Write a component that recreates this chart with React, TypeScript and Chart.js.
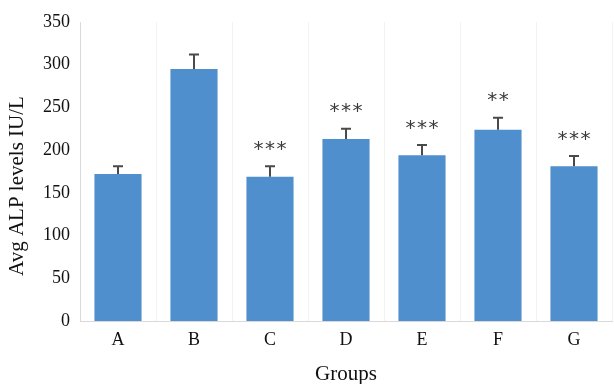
import React, { useEffect, useRef } from "react";
import { Chart, registerables } from "chart.js";

Chart.register(...registerables);

const categories = ["A", "B", "C", "D", "E", "F", "G"];
const avgALP = [172, 295, 169, 213, 194, 224, 181];
const errors = [9, 17, 12, 12, 12, 14, 12];
const significance = ["", "", "***", "***", "***", "**", "***"];
const yTicks = [0, 50, 100, 150, 200, 250, 300, 350];
const yTitle = "Avg ALP levels IU/L";
const xTitle = "Groups";

const serif = "'Liberation Serif', 'Times New Roman', serif";

const errorBarPlugin = {
  id: "errorBars",
  afterDatasetsDraw(chart: any) {
    const { ctx, scales } = chart;
    const meta = chart.getDatasetMeta(0);
    const y = scales.y;
    ctx.save();
    meta.data.forEach((bar: any, i: number) => {
      const x = bar.x;
      const top = y.getPixelForValue(avgALP[i] + errors[i]);
      const base = y.getPixelForValue(avgALP[i]);
      ctx.strokeStyle = "#4a4a4a";
      ctx.lineWidth = 2;
      ctx.beginPath();
      ctx.moveTo(x, base);
      ctx.lineTo(x, top);
      ctx.moveTo(x - 5, top);
      ctx.lineTo(x + 5, top);
      ctx.stroke();
      const s = significance[i];
      if (s) {
        ctx.fillStyle = "#3a3a3a";
        ctx.font = "20px 'DejaVu Sans', sans-serif";
        ctx.textAlign = "center";
        ctx.textBaseline = "alphabetic";
        const m = ctx.measureText("*");
        const centerY = top - 21;
        const baseY = centerY + (m.actualBoundingBoxAscent - m.actualBoundingBoxDescent) / 2;
        const gap = 11.5;
        const n = s.length;
        for (let k = 0; k < n; k++) {
          const cx = x + (k - (n - 1) / 2) * gap;
          ctx.fillText("*", cx, baseY);
        }
      }
    });
    // y-axis title, placed slightly below the axis centre as in the reference
    ctx.save();
    ctx.translate(17, 186);
    ctx.rotate(-Math.PI / 2);
    ctx.fillStyle = "#111";
    ctx.font = `21px ${serif}`;
    ctx.textAlign = "center";
    ctx.textBaseline = "middle";
    ctx.fillText(yTitle, 0, 0);
    ctx.restore();
    ctx.restore();
  },
};

export default function App() {
  const ref = useRef<HTMLCanvasElement | null>(null);
  useEffect(() => {
    if (!ref.current) return;
    const chart = new Chart(ref.current, {
      type: "bar",
      data: {
        labels: categories,
        datasets: [
          {
            data: avgALP,
            backgroundColor: "#4f8fcd",
            borderWidth: 0,
            categoryPercentage: 1,
            barPercentage: 0.62,
          },
        ],
      },
      options: {
        animation: false,
        responsive: false,
        maintainAspectRatio: false,
        layout: { padding: { top: 22, right: 2, left: 0, bottom: 0 } },
        plugins: { legend: { display: false }, tooltip: { enabled: false } },
        scales: {
          x: {
            grid: { display: true, color: "#f2f2f2", drawTicks: false, offset: true },
            border: { display: true, color: "#d9d9d9", width: 1 },
            ticks: { color: "#111", font: { family: serif, size: 18 }, padding: 8 },
            title: {
              display: true,
              text: xTitle,
              color: "#111",
              font: { family: serif, size: 21, lineHeight: 0.9 },
              padding: { top: 0, bottom: 0 },
            },
            afterFit(scale: any) {
              scale.height = 63;
            },
          },
          y: {
            min: 0,
            max: 350,
            afterBuildTicks(scale: any) {
              scale.ticks = yTicks.map((v) => ({ value: v }));
            },
            grid: { display: false, drawTicks: false },
            border: { display: true, color: "#d9d9d9", width: 1 },
            ticks: { color: "#111", font: { family: serif, size: 18 }, padding: 10 },
            title: { display: false },
            afterFit(scale: any) {
              scale.width = 80;
            },
          },
        },
      },
      plugins: [errorBarPlugin],
    });
    return () => chart.destroy();
  }, []);
  return (
    <div style={{ position: "fixed", left: 0, top: 0, width: 614, height: 384, background: "#fff" }}>
      <canvas ref={ref} width={614} height={384} style={{ width: 614, height: 384 }} />
    </div>
  );
}
